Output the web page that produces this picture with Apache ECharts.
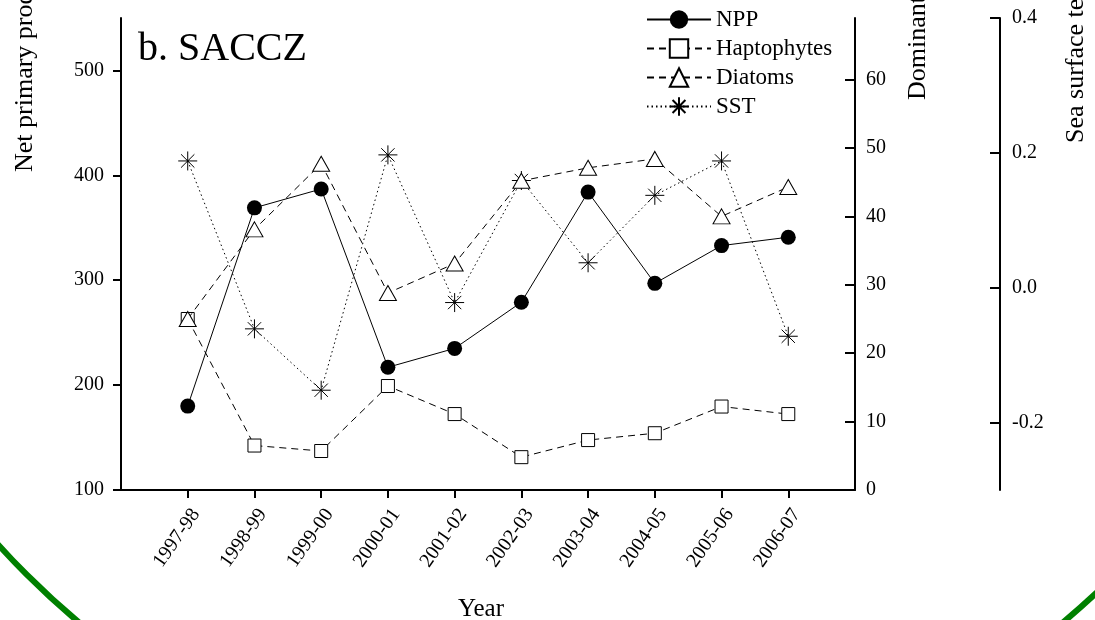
<!DOCTYPE html>
<html>
<head>
<meta charset="utf-8">
<title>b. SACCZ</title>
<script src="https://cdn.jsdelivr.net/npm/echarts@6/dist/echarts.min.js"></script>
<style>
  html, body { margin: 0; padding: 0; background: #fff; }
  #chart { width: 1095px; height: 620px; }
</style>
</head>
<body>
<div id="chart"></div>
<script>
// Austral summer seasons
const years = ['1997-98', '1998-99', '1999-00', '2000-01', '2001-02',
               '2002-03', '2003-04', '2004-05', '2005-06', '2006-07'];

// Net primary production (left axis)
const npp = [180, 369, 387, 217, 235, 279, 384, 297, 333, 341];
// Dominant groups, % (first right axis)
const haptophytes = [25.0, 6.5, 5.7, 15.2, 11.1, 4.8, 7.3, 8.3, 12.2, 11.1];
const diatoms = [25.0, 38.1, 47.7, 28.8, 33.1, 45.2, 47.1, 48.4, 40.0, 44.3];
// Sea surface temperature anomaly (second right axis)
const sst = [0.188, -0.061, -0.152, 0.197, -0.022, 0.159, 0.037, 0.137, 0.188, -0.072];

// Tick values
const nppTicks = [100, 200, 300, 400, 500];
const domTicks = [0, 10, 20, 30, 40, 50, 60];
const sstTicks = [-0.2, 0.0, 0.2, 0.4];

const FONT = 'Liberation Serif';
const pairs = arr => arr.map((v, i) => [i + 1, v]);
const asterisk = 'path://M10,0 L10,20 M0,10 L20,10 M3,3 L17,17 M3,17 L17,3';
const AXIS_LINE = { color: '#000', width: 2 };

const chart = echarts.init(document.getElementById('chart'), null, { renderer: 'canvas' });

const yAxisBase = {
  type: 'value',
  splitLine: { show: false },
  axisLine: { show: true, onZero: false, lineStyle: AXIS_LINE }
};

chart.setOption({
  animation: false,
  backgroundColor: '#fff',
  grid: { left: 121, right: 240, top: 18, bottom: 130, containLabel: false },
  legend: {
    orient: 'vertical',
    left: 641,
    top: 3,
    itemWidth: 64,
    itemHeight: 23,
    itemGap: 6,
    textStyle: { color: '#000', fontFamily: FONT, fontSize: 23 },
    data: ['NPP', 'Haptophytes', 'Diatoms', 'SST']
  },
  xAxis: {
    type: 'value',
    min: 0,
    max: years.length + 1,
    interval: 1,
    splitLine: { show: false },
    axisLine: { show: true, onZero: false, lineStyle: AXIS_LINE },
    axisTick: { show: true, length: 8, lineStyle: AXIS_LINE },
    axisLabel: {
      color: '#000', fontFamily: FONT, fontSize: 20, rotate: 55, margin: 15,
      verticalAlign: 'top',
      showMinLabel: false, showMaxLabel: false,
      formatter: v => years[v - 1] || ''
    }
  },
  yAxis: [
    Object.assign({}, yAxisBase, {
      position: 'left',
      min: 100, max: 550,
      axisTick: { show: true, length: 8, customValues: nppTicks, lineStyle: AXIS_LINE },
      axisLabel: { color: '#000', fontFamily: FONT, fontSize: 20, margin: 17, customValues: nppTicks }
    }),
    Object.assign({}, yAxisBase, {
      position: 'right',
      min: 0, max: 69,
      axisTick: { show: true, inside: true, length: 10, customValues: domTicks, lineStyle: AXIS_LINE },
      axisLabel: { color: '#000', fontFamily: FONT, fontSize: 20, margin: 11, customValues: domTicks }
    }),
    Object.assign({}, yAxisBase, {
      position: 'right',
      offset: 145,
      min: -0.3, max: 0.4,
      axisTick: { show: true, inside: true, length: 10, customValues: sstTicks, lineStyle: AXIS_LINE },
      axisLabel: { color: '#000', fontFamily: FONT, fontSize: 20, margin: 12, customValues: sstTicks,
                   formatter: v => v.toFixed(1) }
    })
  ],
  series: [
    {
      name: 'NPP', type: 'line', yAxisIndex: 0, data: pairs(npp),
      symbol: 'circle', symbolSize: 15,
      lineStyle: { color: '#000', width: 1 },
      itemStyle: { color: '#000', borderColor: '#000', borderWidth: 0 },
      z: 5
    },
    {
      name: 'Haptophytes', type: 'line', yAxisIndex: 1, data: pairs(haptophytes),
      symbol: 'rect', symbolSize: 13,
      lineStyle: { color: '#000', width: 1, type: [7, 5] },
      itemStyle: { color: '#fff', borderColor: '#000', borderWidth: 1 },
      z: 3
    },
    {
      name: 'Diatoms', type: 'line', yAxisIndex: 1, data: pairs(diatoms),
      symbol: 'triangle', symbolSize: [17, 15],
      lineStyle: { color: '#000', width: 1, type: [7, 5] },
      itemStyle: { color: '#fff', borderColor: '#000', borderWidth: 1 },
      z: 4
    },
    {
      name: 'SST', type: 'line', yAxisIndex: 2, data: pairs(sst),
      symbol: asterisk, symbolSize: 19,
      lineStyle: { color: '#000', width: 1, type: [1.5, 3] },
      itemStyle: { color: 'rgba(0,0,0,0)', borderColor: '#000', borderWidth: 1 },
      z: 2
    }
  ],
  graphic: [
    {
      type: 'circle', silent: true, z: -1,
      shape: { cx: 571, cy: 30, r: 770 },
      style: { fill: 'none', stroke: '#008000', lineWidth: 6 }
    },
    {
      type: 'text', left: 138, top: 29,
      style: { text: 'b. SACCZ', fill: '#000', font: '40px "Liberation Serif"' }
    },
    {
      type: 'text', x: 25, y: 172, rotation: Math.PI / 2,
      style: { text: 'Net primary production (mg C m\u207B\u00B2 d\u207B\u00B9)', fill: '#000',
               font: '26px "Liberation Serif"', align: 'left', verticalAlign: 'middle' }
    },
    {
      type: 'text', x: 918, y: 100, rotation: Math.PI / 2,
      style: { text: 'Dominant groups (%)', fill: '#000',
               font: '26px "Liberation Serif"', align: 'left', verticalAlign: 'middle' }
    },
    {
      type: 'text', x: 1076, y: 143, rotation: Math.PI / 2,
      style: { text: 'Sea surface temperature anomaly (\u00B0C)', fill: '#000',
               font: '26px "Liberation Serif"', align: 'left', verticalAlign: 'middle' }
    },
    {
      type: 'text', x: 481, y: 609,
      style: { text: 'Year', fill: '#000', font: '25px "Liberation Serif"',
               align: 'center', verticalAlign: 'middle' }
    }
  ]
});
</script>
</body>
</html>
